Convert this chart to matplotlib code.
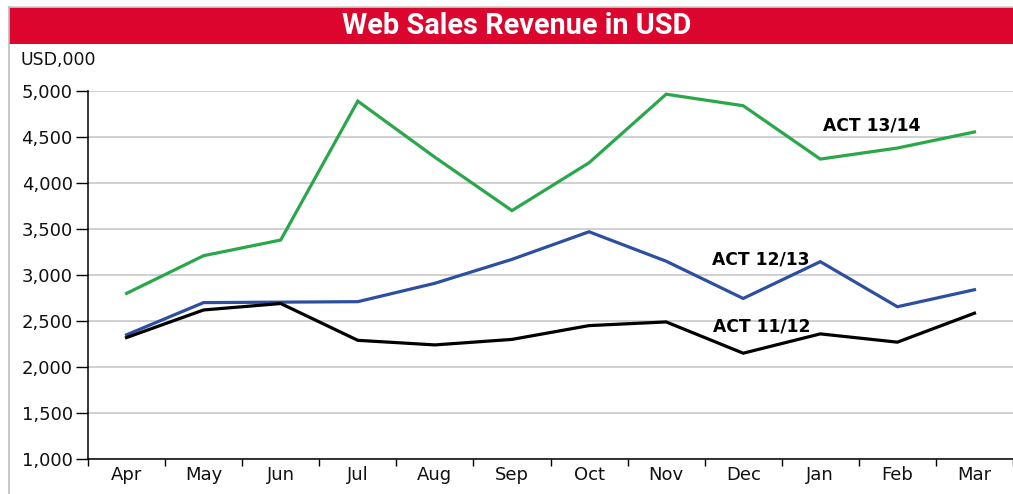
import matplotlib
matplotlib.use("Agg")
import matplotlib.pyplot as plt
from matplotlib.lines import Line2D
from matplotlib.patches import Rectangle
import numpy as np

months = ["Apr", "May", "Jun", "Jul", "Aug", "Sep", "Oct", "Nov", "Dec", "Jan", "Feb", "Mar"]
act_13_14 = [2800, 3210, 3380, 4890, 4280, 3700, 4220, 4965, 4840, 4260, 4380, 4555]
act_12_13 = [2350, 2700, 2705, 2710, 2910, 3170, 3470, 3150, 2745, 3145, 2655, 2840]
act_11_12 = [2320, 2620, 2690, 2290, 2240, 2300, 2450, 2490, 2150, 2360, 2270, 2585]
yticks = [1000, 1500, 2000, 2500, 3000, 3500, 4000, 4500, 5000]
title = "Web Sales Revenue in USD"
unit_label = "USD,000"

W, H = 1013, 494
fig = plt.figure(figsize=(W / 100, H / 100), dpi=100)
fig.patch.set_facecolor("white")

# frame lines
fig.add_artist(Line2D([9 / W, 1], [1 - 7 / H, 1 - 7 / H], color="#cfcfcf", lw=1.2))
fig.add_artist(Line2D([9 / W, 9 / W], [0, 1 - 7 / H], color="#bdbdbd", lw=1.2))
# title banner
fig.add_artist(Rectangle((9 / W, 1 - 44 / H), 1 - 9 / W, 36.5 / H, transform=fig.transFigure,
                         facecolor="#dc052d", edgecolor="none"))
fig.text(517 / W, 1 - 26 / H, title, color="white", fontsize=20.8, fontweight="bold",
         family=["Roboto", "DejaVu Sans"], ha="center", va="center")

tick_font = ["DejaVu Sans"]
fig.text(20 / W, 1 - 60 / H, unit_label, fontsize=12.5, family=tick_font,
         ha="left", va="center", color="#111111")

ax = fig.add_axes([88 / W, 35 / H, (W - 88) / W, 368 / H])
x = np.arange(len(months))
ax.plot(x, act_13_14, color="#2aa64b", lw=2.3, solid_joinstyle="miter")
ax.plot(x, act_12_13, color="#2d4f9f", lw=2.3, solid_joinstyle="miter")
ax.plot(x, act_11_12, color="#000000", lw=2.3, solid_joinstyle="miter")

ax.set_xlim(-0.5, -0.5 + (W - 88) / 78.0)
ax.set_ylim(1000, 5000)
ax.set_yticks(yticks)
ax.set_yticklabels([f"{v:,}" for v in yticks], family=tick_font, fontsize=13, color="#111111")
ax.yaxis.grid(True, color="#c4c4c4", lw=1.1)
ax.set_axisbelow(True)

ax.set_xticks(np.arange(len(months) + 1) - 0.5)
ax.set_xticklabels([])
ax.set_xticks(x, minor=True)
ax.set_xticklabels(months, minor=True, family=tick_font, fontsize=13, color="#111111")
ax.tick_params(axis="x", which="major", length=5, width=1, direction="out")
ax.tick_params(axis="x", which="minor", length=0, pad=5)
ax.tick_params(axis="y", length=9, width=1, direction="out", pad=2)

for s in ["top", "right"]:
    ax.spines[s].set_visible(False)
for s in ["left", "bottom"]:
    ax.spines[s].set_color("black")
    ax.spines[s].set_linewidth(1.1)

lab_kw = dict(fontsize=12.3, fontweight="bold", family=["DejaVu Sans"], ha="left", va="center", color="black")
ax.text(9.035, 4620, "ACT 13/14", **lab_kw)
ax.text(7.59, 3165, "ACT 12/13", **lab_kw)
ax.text(7.61, 2435, "ACT 11/12", **lab_kw)

fig.savefig("out.png", dpi=100)
